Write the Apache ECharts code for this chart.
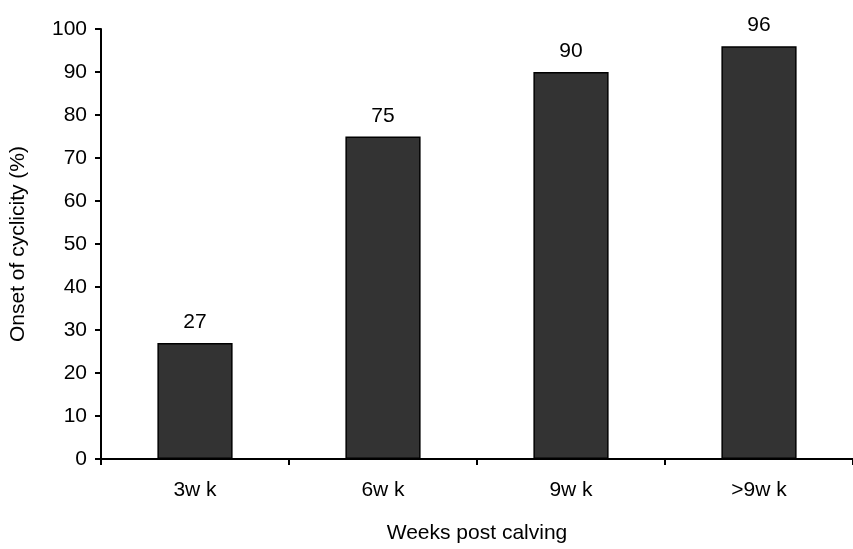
<!DOCTYPE html>
<html>
<head>
<meta charset="utf-8">
<script src="https://cdn.jsdelivr.net/npm/echarts@6/dist/echarts.min.js"></script>
<style>
  html, body { margin: 0; padding: 0; background: #fff; }
  #chart { width: 853px; height: 549px; }
</style>
</head>
<body>
<div id="chart"></div>
<script>
// Weeks after calving and the share of cows that had resumed cycling
const categories = ['3w k', '6w k', '9w k', '>9w k'];
const cyclicity = [27, 75, 90, 96];
const yTicks = { min: 0, max: 100, interval: 10 };

const FONT = 'Liberation Sans, Arial, sans-serif';

const chart = echarts.init(document.getElementById('chart'), null, { renderer: 'canvas' });

chart.setOption({
  animation: false,
  backgroundColor: '#ffffff',
  grid: { left: 95, right: 0, top: 29, bottom: 86, containLabel: false },
  xAxis: {
    type: 'category',
    data: categories,
    name: 'Weeks post calving',
    nameLocation: 'middle',
    nameGap: 64,
    nameTextStyle: { fontFamily: FONT, fontSize: 21, color: '#000' },
    axisLine: { lineStyle: { color: '#000', width: 2 } },
    axisTick: { show: true, length: 6, lineStyle: { color: '#000', width: 2 } },
    axisLabel: { fontFamily: FONT, fontSize: 21, color: '#000', margin: 21 },
    splitLine: { show: false }
  },
  yAxis: {
    type: 'value',
    min: yTicks.min,
    max: yTicks.max,
    interval: yTicks.interval,
    name: 'Onset of cyclicity (%)',
    nameLocation: 'middle',
    nameGap: 72,
    nameRotate: 90,
    nameTextStyle: { fontFamily: FONT, fontSize: 21, color: '#000' },
    axisLine: { show: true, lineStyle: { color: '#000', width: 2 } },
    axisTick: { show: true, length: 6, lineStyle: { color: '#000', width: 2 } },
    axisLabel: { fontFamily: FONT, fontSize: 21, color: '#000', margin: 14 },
    splitLine: { show: false }
  },
  series: [{
    type: 'bar',
    data: cyclicity,
    barWidth: '40%',
    itemStyle: { color: '#333333', borderColor: '#000', borderWidth: 1.5 },
    label: {
      show: true,
      position: 'top',
      distance: 10,
      fontFamily: FONT,
      fontSize: 21,
      color: '#000'
    }
  }]
});
</script>
</body>
</html>
